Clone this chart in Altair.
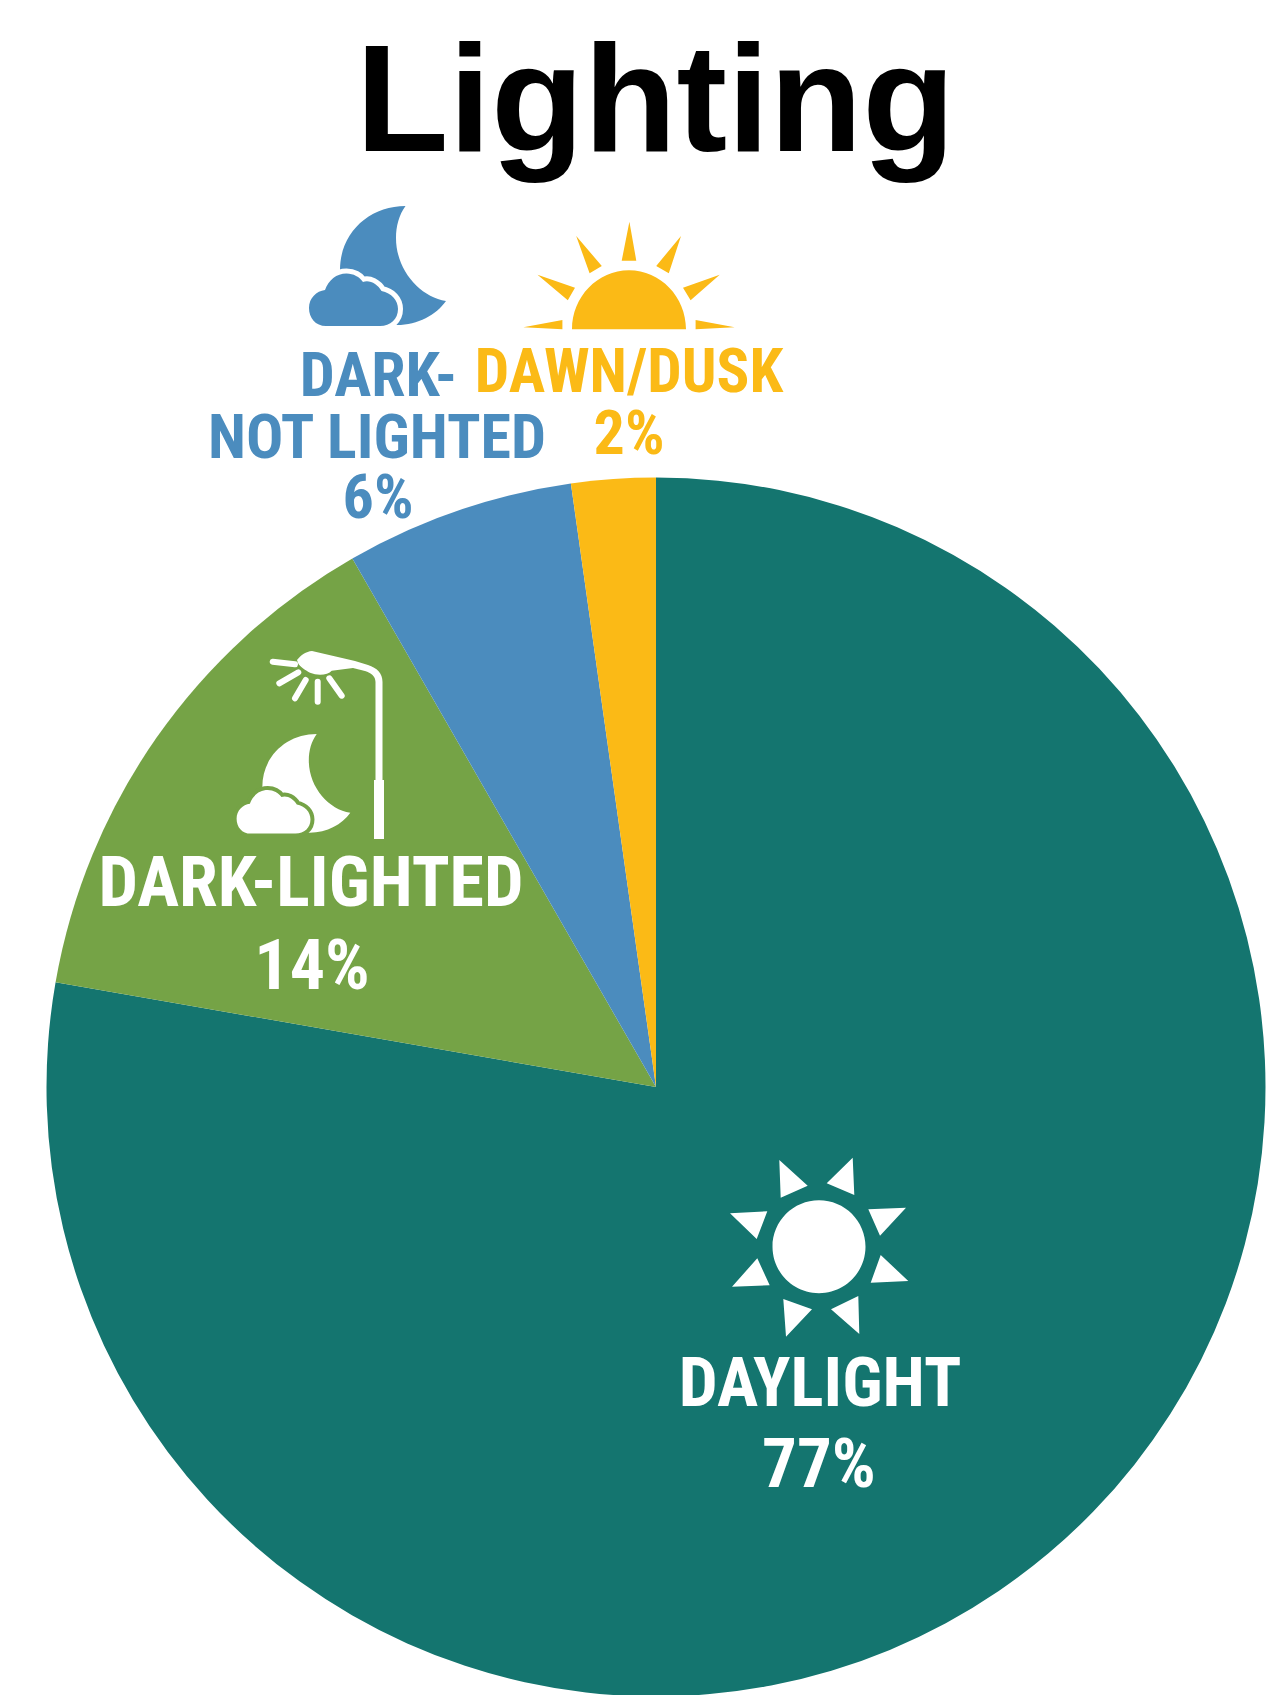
import altair as alt
import pandas as pd

# --- chart values ---
categories = ["DAYLIGHT", "DARK-LIGHTED", "DARK-NOT LIGHTED", "DAWN/DUSK"]
shares = [77.75, 13.95, 6.07, 2.23]
share_labels = ["77%", "14%", "6%", "2%"]
slice_colors = ["#14756F", "#75A346", "#4B8CBE", "#FBBA16"]
title_text = "Lighting"

TEAL, GREEN, BLUE, YELLOW = slice_colors
NARROW = "Roboto Condensed"
W, H = 1270, 1687


def px(v):
    return v - 8  # page pixel to plot pixel


pie_df = pd.DataFrame({"category": categories, "share": shares, "rank": range(4)})
pie = (
    alt.Chart(pie_df)
    .mark_arc(outerRadius=609.5)
    .encode(
        theta=alt.Theta("share:Q", stack=True, scale=alt.Scale(domain=[0, sum(shares)])),
        order=alt.Order("rank:O"),
        color=alt.Color(
            "category:N",
            scale=alt.Scale(domain=categories, range=slice_colors),
            legend=None,
        ),
        x=alt.value(px(656)),
        y=alt.value(px(1087)),
    )
)


def label(text, x, y, size, color, font=NARROW):
    return (
        alt.Chart(pd.DataFrame({"label": [text]}))
        .mark_text(
            font=font, fontWeight="bold", fontSize=size, color=color,
            align="center", baseline="alphabetic",
        )
        .encode(text="label:N", x=alt.value(px(x)), y=alt.value(px(y)))
    )


def icon(path, x, y, color=None, scale=1.0, stroke=None, stroke_width=0, cap=None):
    """Decorative pictogram; a path's unit is one page pixel at scale 1."""
    opts = dict(shape=path, size=(2 * scale) ** 2, opacity=1)
    if color:
        opts.update(filled=True, fill=color)
    else:
        opts.update(filled=False, fillOpacity=0)
    if stroke:
        opts.update(stroke=stroke, strokeWidth=stroke_width)
    else:
        opts.update(strokeWidth=0)
    if cap:
        opts.update(strokeCap=cap)
    return (
        alt.Chart(pd.DataFrame({"i": [0]}))
        .mark_point(**opts)
        .encode(x=alt.value(px(x)), y=alt.value(px(y)))
    )


# paths relative to the moon's upper tip
MOON = ("M0,0 C-35.5,0 -65.5,26 -65.5,64 C-65.5,97 -40.5,119 -8.5,119 "
        "C12.5,119 30.5,109 40.5,95 C14.5,91 -9.5,64 -9.5,32 C-9.5,20 -6.5,9 0,0 Z")
CLOUD = ("M-79.5,120 C-90,120 -96.5,112 -96.5,102 C-96.5,92 -89,85 -80.5,84 "
         "C-77,74 -69,67.5 -59,67.5 C-52,67.5 -46,71 -42.5,76 "
         "C-36,73.5 -28,78 -24,85 C-14,87 -7.5,94 -7.5,103 "
         "C-7.5,113 -15,120 -25.5,120 Z")

# paths in page pixels, anchored at the page origin
SUN_HALF = ("M572,329.3 C572,297 597.5,270.3 629,270.3 C660.5,270.3 686,297 686,329.3 Z "
            "M629.4,221.7 L621.7,260.7 L636.3,260.7 Z "
            "M576.2,236 L589.6,273.3 L601.8,266 Z "
            "M681,236 L656.2,266 L668.8,273.3 Z "
            "M537.5,274.7 L567.8,300.3 L575,287.7 Z "
            "M719.7,274.7 L683,287.7 L690.6,300.3 Z "
            "M523.4,327.3 L562.4,320 L562.4,329.3 Z "
            "M734.6,327.3 L695.6,320 L695.6,329.3 Z")

R = 46.5
K = 0.5523 * R
CX, CY = 819, 1246.7
SUN_FULL = (
    f"M{CX - R},{CY} C{CX - R},{CY - K} {CX - K},{CY - R} {CX},{CY - R} "
    f"C{CX + K},{CY - R} {CX + R},{CY - K} {CX + R},{CY} "
    f"C{CX + R},{CY + K} {CX + K},{CY + R} {CX},{CY + R} "
    f"C{CX - K},{CY + R} {CX - R},{CY + K} {CX - R},{CY} Z "
    "M779.3,1160 L780.7,1197.7 L807.7,1185.7 Z "
    "M852.7,1157.7 L826.7,1183.3 L854.3,1195 Z "
    "M906,1207.7 L868.3,1209.3 L880,1235.7 Z "
    "M730,1213.3 L767.3,1211.3 L756.7,1239 Z "
    "M757.3,1258.3 L732,1286.7 L769.7,1285.3 Z "
    "M880.7,1255 L870.7,1282.7 L908.3,1281 Z "
    "M783.3,1299 L786,1336.7 L812,1309.3 Z "
    "M858.3,1296 L831,1309.3 L859.3,1334 Z"
)

LAMP = ("M297,660 C301,655 306,651.5 312,651 L355,661 L368,665 C377,668 382.5,673 382.5,682 "
        "L382.5,780 L384,780 L384,839 L374,839 L374,780 L375.5,780 L375.5,682 "
        "C375.5,676 371,673 365,671 L353,668 L331.7,670.7 "
        "C328,675 318,676 310,672.7 C305,670 300,667 298,663 Z")
LAMP_RAYS = ("M272.7,661.7 L295,664.3 M279.3,683.3 L298.3,672.3 M295,698.3 L305.7,680 "
             "M317.7,681.7 L317.7,701.7 M329.3,678.3 L341.7,695.7")

layers = [
    pie,
    label(title_text, 655.5, 151, 152, "#000000", font="Liberation Sans"),
    # dark, not lighted
    icon(MOON, 405.5, 206, BLUE),
    icon(CLOUD, 405.5, 206, "#FFFFFF", stroke="#FFFFFF", stroke_width=10),
    icon(CLOUD, 405.5, 206, BLUE),
    label("DARK-", 378.5, 396, 62, BLUE),
    label("NOT LIGHTED", 377, 458, 62, BLUE),
    label(share_labels[2], 378, 518, 62, BLUE),
    # dawn / dusk
    icon(SUN_HALF, 0, 0, YELLOW),
    label(categories[3], 629, 392, 61, YELLOW),
    label(share_labels[3], 629, 454, 62, YELLOW),
    # dark, lighted
    icon(LAMP, 0, 0, "#FFFFFF"),
    icon(LAMP_RAYS, 0, 0, stroke="#FFFFFF", stroke_width=6, cap="round"),
    icon(MOON, 316.7, 734, "#FFFFFF", scale=0.83),
    icon(CLOUD, 316.7, 734, GREEN, scale=0.83, stroke=GREEN, stroke_width=8),
    icon(CLOUD, 316.7, 734, "#FFFFFF", scale=0.83),
    label(categories[1], 311, 906, 70, "#FFFFFF"),
    label(share_labels[1], 312, 989, 70, "#FFFFFF"),
    # daylight
    icon(SUN_FULL, 0, 0, "#FFFFFF"),
    label(categories[0], 820, 1406, 69, "#FFFFFF"),
    label(share_labels[0], 819, 1487, 69, "#FFFFFF"),
]

chart = (
    alt.layer(*layers)
    .properties(width=W, height=H, padding=0, autosize=alt.AutoSizeParams(type="none"),
                background="#FFFFFF")
    .configure_view(stroke=None)
)

chart.save("out.html", embed_options={"renderer": "svg", "actions": False})
